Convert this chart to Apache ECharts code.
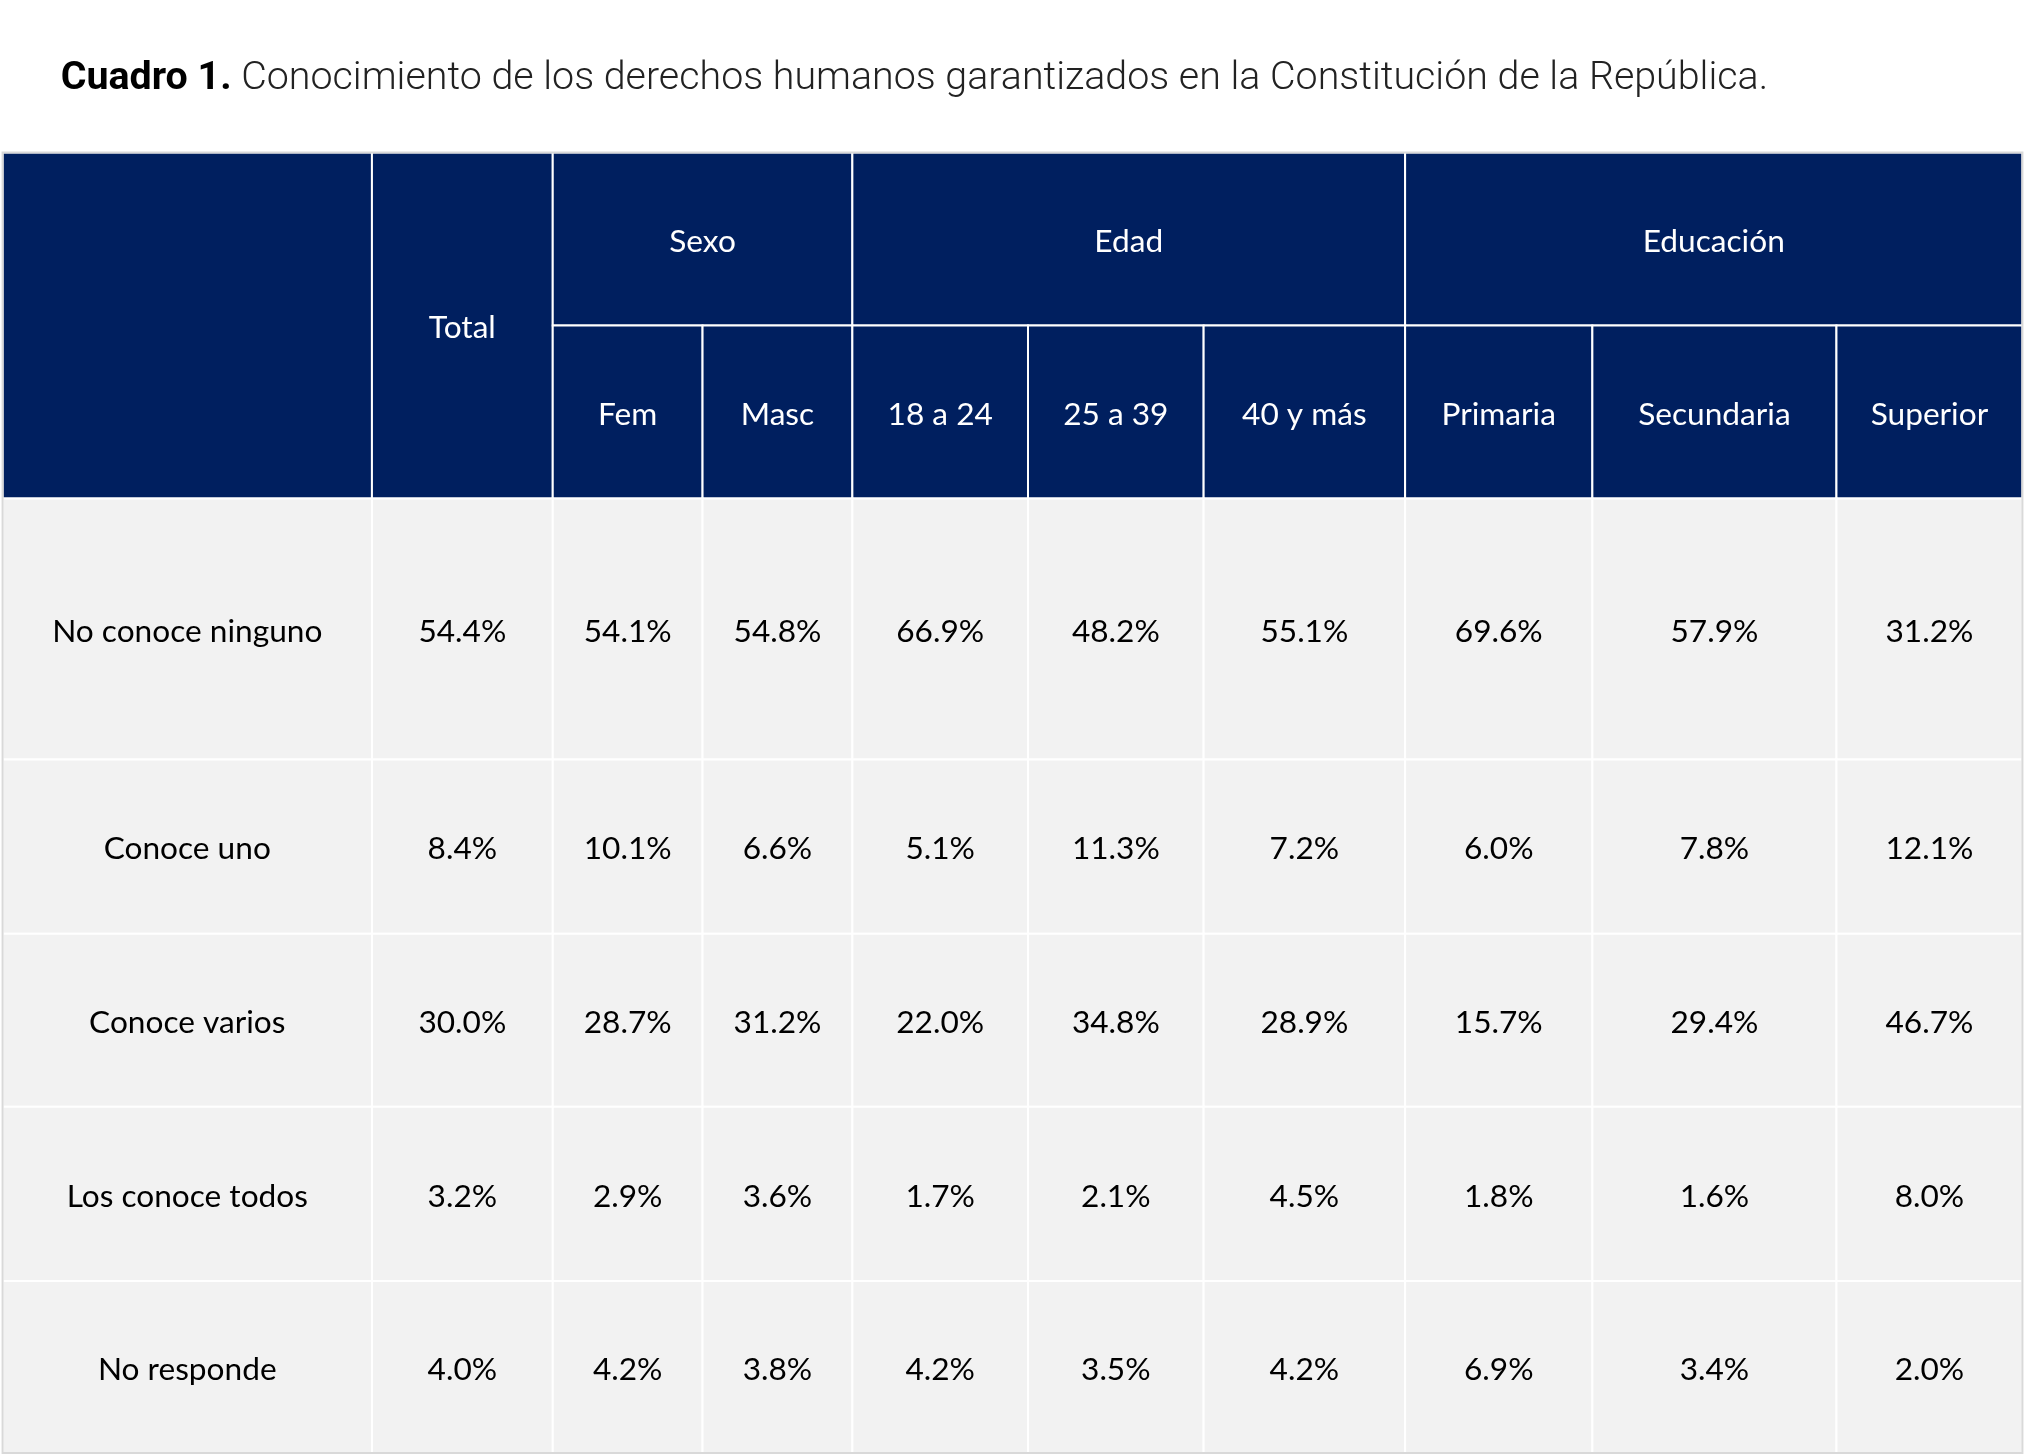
<!DOCTYPE html>
<html>
<head>
<meta charset="utf-8">
<script src="https://cdn.jsdelivr.net/npm/echarts@6/dist/echarts.min.js"></script>
<style>html,body{margin:0;padding:0;background:#fff}#main{width:2025px;height:1454px}</style>
</head>
<body>
<div id="main"></div>
<script>
// datos del cuadro
var titleBold = 'Cuadro 1.';
var titleText = ' Conocimiento de los derechos humanos garantizados en la Constitución de la República.';
var groups = [
    { name: 'Sexo', from: 1, to: 2 },
    { name: 'Edad', from: 3, to: 5 },
    { name: 'Educación', from: 6, to: 8 }
];
var columns = ['Total', 'Fem', 'Masc', '18 a 24', '25 a 39', '40 y más', 'Primaria', 'Secundaria', 'Superior'];
var rows = ['No conoce ninguno', 'Conoce uno', 'Conoce varios', 'Los conoce todos', 'No responde'];
var values = [
    ['54.4%', '54.1%', '54.8%', '66.9%', '48.2%', '55.1%', '69.6%', '57.9%', '31.2%'],
    ['8.4%', '10.1%', '6.6%', '5.1%', '11.3%', '7.2%', '6.0%', '7.8%', '12.1%'],
    ['30.0%', '28.7%', '31.2%', '22.0%', '34.8%', '28.9%', '15.7%', '29.4%', '46.7%'],
    ['3.2%', '2.9%', '3.6%', '1.7%', '2.1%', '4.5%', '1.8%', '1.6%', '8.0%'],
    ['4.0%', '4.2%', '3.8%', '4.2%', '3.5%', '4.2%', '6.9%', '3.4%', '2.0%']
];

// geometría (medida sobre la imagen a 1568 px de ancho)
var s = 2025 / 1568;
var colX = [2, 288, 428, 544, 660, 796, 932, 1088, 1233, 1422, 1566];
var headY = [118, 252, 386];
var rowY = [386, 588, 723, 857, 992, 1125];
var navy = '#001f5f';
var font = 'Lato, "Open Sans", sans-serif';
var fs = 24.5 * s;

var g = [];
function rect(x0, y0, x1, y1, fill, stroke) {
    g.push({ type: 'rect', shape: { x: x0 * s, y: y0 * s, width: (x1 - x0) * s, height: (y1 - y0) * s },
        style: { fill: fill, stroke: stroke, lineWidth: 2 } });
}
function text(str, cx, cy, color) {
    g.push({ type: 'text', x: cx * s, y: (cy + 2) * s,
        style: { text: str, fill: color, font: fs + 'px ' + font, align: 'center', verticalAlign: 'middle' } });
}

// título
g.push({ type: 'text', x: 47 * s, y: 61 * s, style: {
    text: '{b|' + titleBold + '}{n|' + titleText + '}', verticalAlign: 'middle',
    rich: {
        b: { fontFamily: 'Roboto', fontWeight: 'bold', fontSize: 30.5 * s, fill: '#000' },
        n: { fontFamily: 'Roboto', fontWeight: 300, fontSize: 30.5 * s, fill: '#222' }
    } } });

// encabezado
rect(colX[0], headY[0], colX[1], headY[2], navy, '#fff');
rect(colX[1], headY[0], colX[2], headY[2], navy, '#fff');
text(columns[0], (colX[1] + colX[2]) / 2, (headY[0] + headY[2]) / 2, '#fff');
groups.forEach(function (gr) {
    var x0 = colX[gr.from + 1], x1 = colX[gr.to + 2];
    rect(x0, headY[0], x1, headY[1], navy, '#fff');
    text(gr.name, (x0 + x1) / 2, (headY[0] + headY[1]) / 2, '#fff');
});
for (var c = 1; c < columns.length; c++) {
    rect(colX[c + 1], headY[1], colX[c + 2], headY[2], navy, '#fff');
    text(columns[c], (colX[c + 1] + colX[c + 2]) / 2, (headY[1] + headY[2]) / 2, '#fff');
}

// cuerpo
rows.forEach(function (r, i) {
    var y0 = rowY[i], y1 = rowY[i + 1], cy = (y0 + y1) / 2;
    rect(colX[0], y0, colX[1], y1, '#f2f2f2', '#fff');
    text(r, (colX[0] + colX[1]) / 2, cy, '#000');
    values[i].forEach(function (v, j) {
        rect(colX[j + 1], y0, colX[j + 2], y1, '#f2f2f2', '#fff');
        text(v, (colX[j + 1] + colX[j + 2]) / 2, cy, '#000');
    });
});
// borde exterior
g.push({ type: 'rect', shape: { x: colX[0] * s, y: headY[0] * s, width: (colX[10] - colX[0]) * s, height: (rowY[5] - headY[0]) * s },
    style: { fill: 'none', stroke: '#d9d9d9', lineWidth: 2 }, z: 10 });

var chart = echarts.init(document.getElementById('main'));
chart.setOption({ animation: false, graphic: g });
</script>
</body>
</html>
